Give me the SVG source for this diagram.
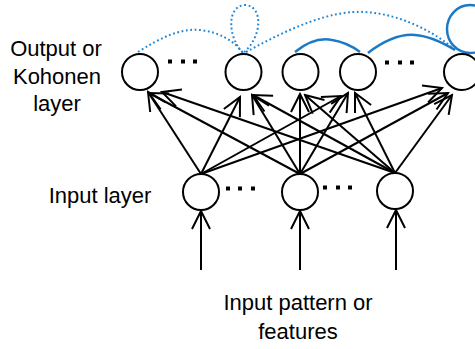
<svg xmlns="http://www.w3.org/2000/svg" width="475" height="349" viewBox="0 0 475 349">
  <style>
    .node { fill: #fff; stroke: #000; stroke-width: 2; }
    .edge { fill: none; stroke: #000; stroke-width: 2; marker-end: url(#arr); }
    .dots rect { fill: #000; }
    .lbl { font-family: "Liberation Sans", Arial, sans-serif; font-size: 22px; fill: #000; text-anchor: middle; }
    .nb-dot { fill: none; stroke: #1f86d6; stroke-width: 2; stroke-dasharray: 1.8 2.6; }
    .nb-solid { fill: none; stroke: #1a7ac7; stroke-width: 2.5; }
  </style>
  <defs>
    <marker id="arr" viewBox="-20 -10 22 20" refX="0" refY="0" markerWidth="22" markerHeight="20" markerUnits="userSpaceOnUse" orient="auto">
      <path d="M-18,-9 L0,0 L-18,9" fill="none" stroke="#000" stroke-width="2"/>
    </marker>
  </defs>

  <rect width="475" height="349" fill="#fff"/>

  <!-- layer labels -->
  <text class="lbl" x="56" y="56">Output or</text>
  <text class="lbl" x="57" y="84">Kohonen</text>
  <text class="lbl" x="57" y="111">layer</text>
  <text class="lbl" x="100" y="203">Input layer</text>
  <text class="lbl" x="298" y="310">Input pattern or</text>
  <text class="lbl" x="298" y="339">features</text>

  <!-- neighbourhood links between output units -->
  <g id="neighbourhood">
    <path class="nb-dot" d="M138,52 C160,38 180,28 200,30 C220,32 235,42 243,53"/>
    <path class="nb-dot" d="M243,53 C228,38 226,6 245,5 C264,6 262,38 243,53"/>
    <path class="nb-dot" d="M246,52 C290,28 330,10 365,12 C400,14 435,32 455,50"/>
    <path class="nb-solid" d="M295,52 C310,40 322,38 332,40 C345,42 352,46 360,52"/>
    <path class="nb-solid" d="M368,53 C385,40 402,34 415,35 C430,36 445,44 455,50"/>
    <ellipse class="nb-solid" cx="470" cy="29" rx="23" ry="24"/>
  </g>

  <!-- weighted connections input -> output -->
  <g id="connectors">
    <line class="edge" x1="201" y1="174" x2="148" y2="92"/>
    <line class="edge" x1="300" y1="174" x2="149" y2="93"/>
    <line class="edge" x1="395" y1="173" x2="162" y2="92"/>
    <line class="edge" x1="201" y1="174" x2="240" y2="97"/>
    <line class="edge" x1="300" y1="174" x2="252" y2="95"/>
    <line class="edge" x1="395" y1="173" x2="253" y2="95"/>
    <line class="edge" x1="300" y1="174" x2="300" y2="94"/>
    <line class="edge" x1="395" y1="173" x2="305" y2="95"/>
    <line class="edge" x1="201" y1="174" x2="341" y2="96"/>
    <line class="edge" x1="300" y1="174" x2="348" y2="93"/>
    <line class="edge" x1="395" y1="173" x2="355" y2="93"/>
    <line class="edge" x1="201" y1="174" x2="442" y2="88"/>
    <line class="edge" x1="300" y1="174" x2="448" y2="93"/>
    <line class="edge" x1="395" y1="173" x2="452" y2="95"/>
    <!-- external inputs -->
    <line class="edge" x1="201" y1="270" x2="201" y2="211"/>
    <line class="edge" x1="300" y1="270" x2="300" y2="211"/>
    <line class="edge" x1="396" y1="270" x2="396" y2="210"/>
  </g>

  <!-- output (Kohonen) units -->
  <g id="out1"><circle class="node" cx="140" cy="72" r="18"/></g>
  <g id="out2"><circle class="node" cx="243.5" cy="72" r="18"/></g>
  <g id="out3"><circle class="node" cx="300.5" cy="72" r="18"/></g>
  <g id="out4"><circle class="node" cx="358" cy="72" r="18"/></g>
  <g id="out5"><circle class="node" cx="462" cy="72" r="18"/></g>

  <!-- input units -->
  <g id="in1"><circle class="node" cx="201" cy="192" r="18"/></g>
  <g id="in2"><circle class="node" cx="300" cy="192" r="18"/></g>
  <g id="in3"><circle class="node" cx="395" cy="191" r="18"/></g>

  <!-- ellipsis dots -->
  <g class="dots">
    <rect x="168" y="59.5" width="4" height="4"/>
    <rect x="181" y="59.5" width="4" height="4"/>
    <rect x="193" y="59.5" width="4" height="4"/>
    <rect x="385" y="60.5" width="4" height="4"/>
    <rect x="398" y="60.5" width="4" height="4"/>
    <rect x="410" y="60.5" width="4" height="4"/>
    <rect x="226" y="186.5" width="4" height="4"/>
    <rect x="238" y="186.5" width="4" height="4"/>
    <rect x="251" y="186.5" width="4" height="4"/>
    <rect x="323" y="185.5" width="4" height="4"/>
    <rect x="336" y="185.5" width="4" height="4"/>
    <rect x="348" y="185.5" width="4" height="4"/>
  </g>
</svg>
